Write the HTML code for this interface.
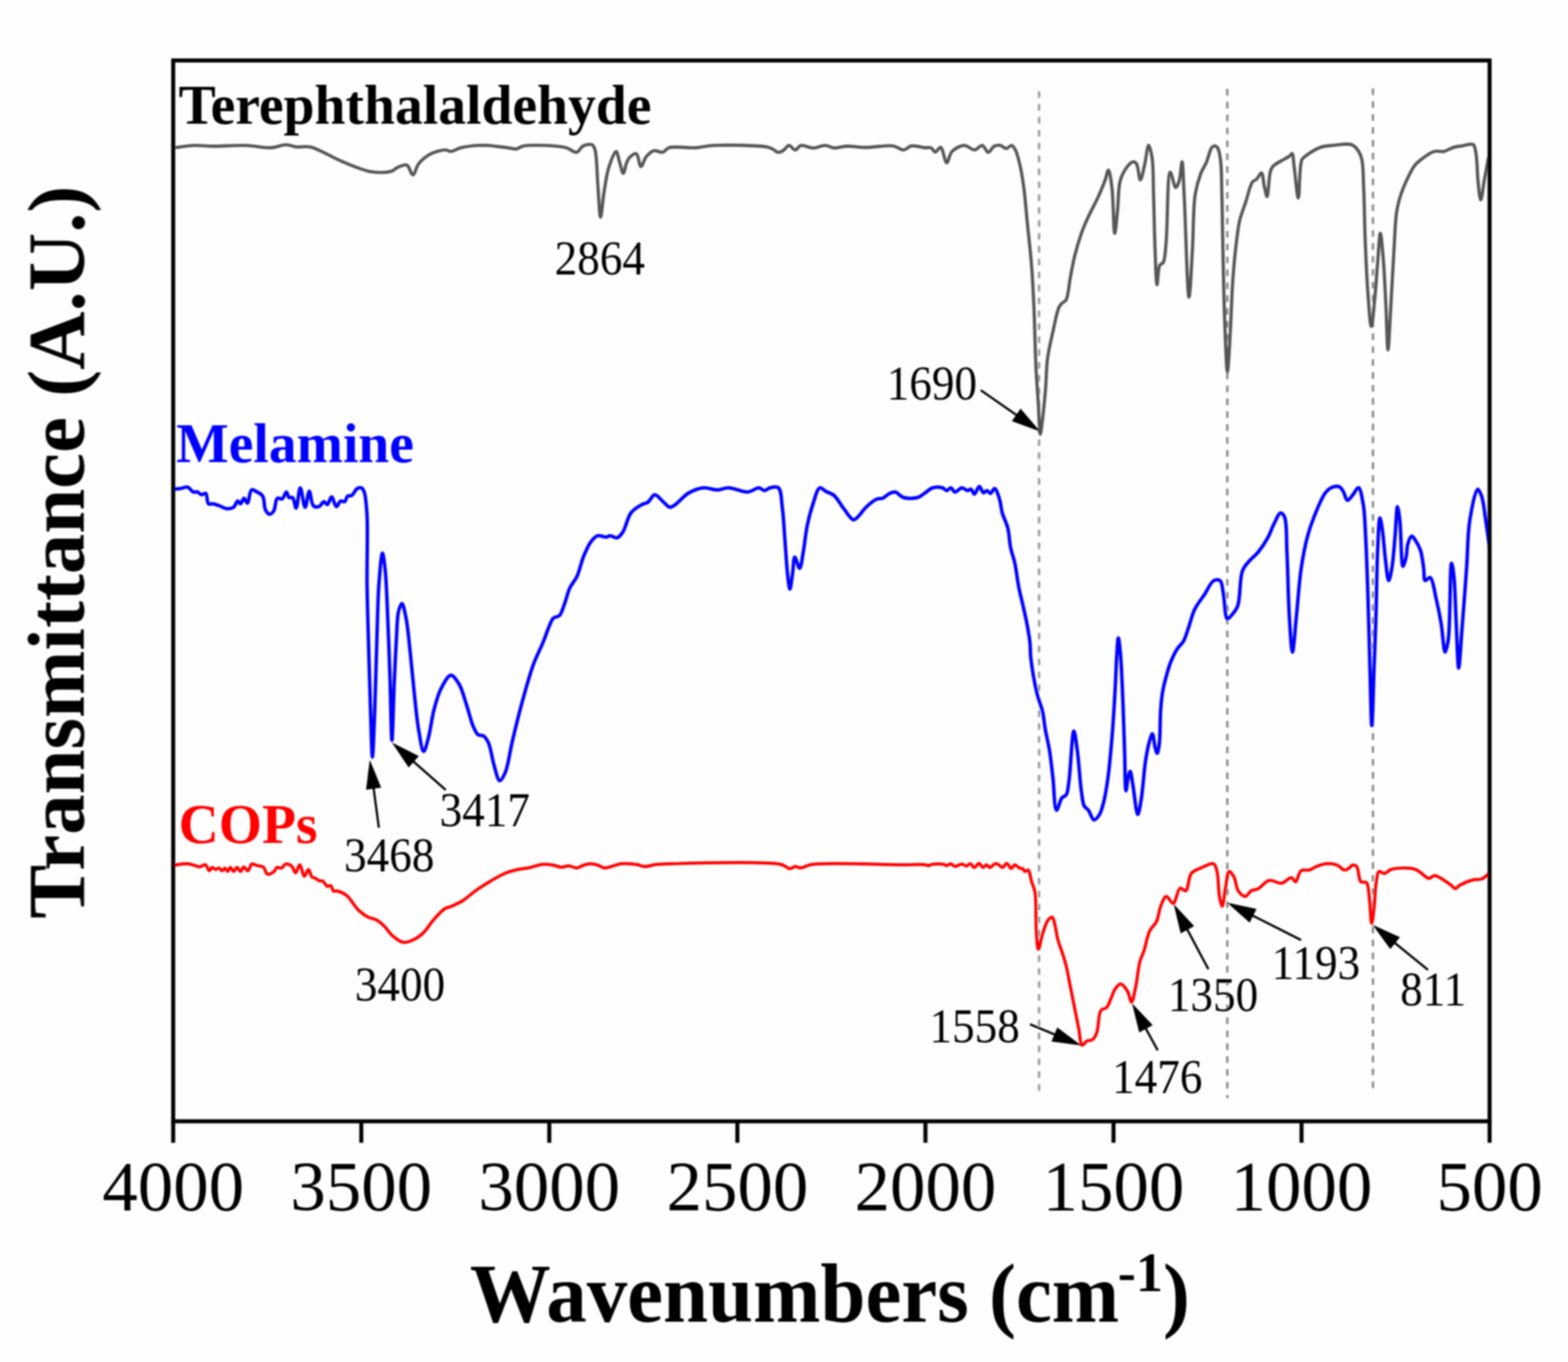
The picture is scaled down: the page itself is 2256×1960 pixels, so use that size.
<!DOCTYPE html>
<html><head><meta charset="utf-8"><title>FTIR</title>
<style>
html,body{margin:0;padding:0;background:#fefefe;}
svg{display:block;}
text{font-family:"Liberation Serif","Times New Roman",serif;}
.tk{font-size:102px;}
.pk{font-size:65px;}
.sr{font-size:80px;font-weight:bold;}
.ax{font-size:116.4px;font-weight:bold;}
.sup{font-size:78px;}
</style></head><body>
<svg width="2256" height="1960" viewBox="0 0 2256 1960"><rect width="2256" height="1960" fill="#fefefe"/><defs><filter id="bl" x="-2%" y="-2%" width="104%" height="104%"><feGaussianBlur stdDeviation="1.1"/></filter></defs><g filter="url(#bl)"><line x1="1495.0" y1="131.25" x2="1495.0" y2="1569.8" stroke="#9a9a9a" stroke-width="3.4" stroke-dasharray="9.5 9.06"/><line x1="1765.8" y1="128.0" x2="1765.8" y2="1580.5" stroke="#8a8a8a" stroke-width="3.4" stroke-dasharray="9.5 9.06"/><line x1="1975.4" y1="127.2" x2="1975.4" y2="1567.5" stroke="#8a8a8a" stroke-width="3.4" stroke-dasharray="9.5 9.06"/><path d="M250.9,212.6C255.6,212.1 269.8,209.6 279.0,209.3C287.8,209.0 295.0,210.3 305.0,210.4C318.6,210.5 338.1,208.8 353.0,209.3C366.1,209.7 379.4,213.2 390.0,212.6C398.2,212.1 405.0,208.2 411.5,208.2C417.0,208.2 421.3,210.9 426.7,211.5C432.8,212.2 438.6,209.8 446.3,211.5C459.0,214.2 478.5,227.1 494.0,233.2C508.1,238.8 522.7,245.5 535.3,247.3C545.5,248.8 557.1,248.2 563.6,246.2C567.5,245.0 568.9,242.2 572.2,240.8C576.0,239.2 581.8,236.1 585.3,237.5C589.2,239.1 591.2,251.8 594.0,251.7C597.0,251.6 598.6,240.3 602.6,235.4C607.0,230.0 613.5,224.6 620.0,221.3C626.5,218.0 636.6,215.6 641.7,215.8C644.6,215.9 645.7,218.0 648.3,218.0C652.3,218.0 657.7,214.0 663.5,212.6C670.6,210.9 681.0,209.8 688.0,209.3C693.2,209.0 696.3,209.0 701.7,209.3C709.5,209.8 722.4,211.7 730.0,212.6C735.2,213.2 739.2,214.9 743.0,214.3C746.3,213.8 747.8,211.3 751.7,210.4C759.0,208.7 773.6,208.9 784.2,209.3C794.5,209.7 806.3,210.4 814.6,212.6C820.7,214.2 825.6,219.9 829.8,219.1C833.4,218.4 835.0,212.2 838.5,210.4C842.2,208.5 848.5,206.9 851.5,208.2C853.8,209.2 854.7,211.3 855.9,214.7C859.0,223.6 858.8,250.1 860.2,266.9C861.5,282.6 862.5,312.5 864.1,312.5C865.5,312.5 867.0,289.3 868.9,277.7C870.8,266.1 872.2,253.5 875.4,243.0C878.2,233.8 883.4,217.9 886.3,218.0C888.6,218.1 889.9,229.0 891.7,234.3C893.4,239.5 895.1,249.5 896.7,249.5C898.3,249.5 899.7,238.4 901.5,234.3C902.8,231.2 903.7,228.8 905.8,226.7C908.2,224.3 913.0,220.3 915.6,221.3C919.0,222.6 919.6,239.5 922.1,239.7C924.4,239.9 926.5,229.5 929.7,225.6C932.7,222.0 936.5,217.9 940.6,216.9C944.5,215.9 949.9,220.0 953.6,219.1C957.0,218.3 958.0,214.0 962.3,212.6C970.4,209.9 989.7,213.3 1001.4,212.6C1011.0,212.0 1016.4,209.8 1027.4,209.3C1046.1,208.4 1090.8,209.0 1103.5,211.5C1107.9,212.4 1109.5,213.4 1112.1,214.7C1114.5,215.9 1116.3,218.7 1118.7,219.1C1121.1,219.5 1124.0,218.3 1126.5,216.9C1129.5,215.3 1132.3,209.4 1135.2,209.3C1138.1,209.2 1141.0,215.8 1143.9,215.8C1146.8,215.8 1149.0,210.1 1152.6,209.3C1157.2,208.3 1164.2,213.0 1170.0,213.0C1175.8,213.0 1182.0,209.1 1187.3,209.3C1192.0,209.5 1195.6,212.7 1200.3,213.0C1205.6,213.3 1211.2,210.7 1217.7,210.4C1226.0,210.0 1235.8,212.1 1246.0,212.1C1258.0,212.1 1275.1,208.5 1285.0,210.0C1291.4,211.0 1295.6,216.1 1300.2,215.8C1304.2,215.6 1306.8,210.8 1311.1,210.0C1316.5,209.0 1325.4,212.3 1330.6,212.6C1334.1,212.8 1336.8,211.6 1339.3,212.6C1341.9,213.6 1343.5,218.7 1345.8,218.7C1348.2,218.7 1351.1,211.5 1353.4,212.1C1356.9,213.0 1359.2,234.2 1362.1,234.3C1364.6,234.4 1365.7,222.1 1369.7,218.0C1373.9,213.7 1381.5,209.5 1387.1,209.3C1392.3,209.1 1397.7,216.1 1402.3,215.8C1406.3,215.5 1410.0,208.8 1413.2,209.3C1416.5,209.8 1418.9,219.0 1421.8,219.1C1424.6,219.2 1427.3,212.0 1430.5,210.4C1433.2,209.1 1436.4,208.8 1439.2,209.3C1442.2,209.8 1445.1,213.8 1447.9,213.7C1450.5,213.6 1453.3,208.9 1455.5,209.3C1457.7,209.7 1459.3,212.9 1461.0,216.0C1463.8,221.3 1466.1,231.4 1468.0,239.9C1470.1,249.3 1471.5,258.6 1473.0,269.9C1474.9,284.4 1476.3,302.4 1478.0,319.8C1479.9,338.9 1482.4,359.7 1484.0,379.7C1485.6,399.8 1486.5,417.8 1487.5,440.0C1488.8,467.2 1489.3,505.7 1490.6,530.7C1491.5,548.4 1492.6,560.7 1493.6,576.1C1494.7,592.1 1495.5,624.9 1496.8,625.0C1497.6,625.0 1498.6,614.0 1499.6,606.4C1501.1,594.6 1502.9,576.1 1504.2,561.0C1505.5,545.9 1505.3,530.0 1507.2,515.6C1509.0,502.4 1512.0,490.2 1514.8,477.8C1517.6,465.6 1520.4,448.4 1523.9,441.6C1525.5,438.5 1527.1,437.3 1528.9,435.6C1530.5,434.0 1532.5,434.0 1533.9,431.6C1537.1,426.3 1537.9,410.2 1539.9,399.7C1541.9,389.5 1543.4,379.9 1545.9,369.7C1548.6,358.7 1552.3,346.0 1555.9,335.8C1559.0,327.0 1562.1,320.0 1565.9,311.8C1570.0,302.8 1575.7,292.9 1579.8,283.9C1583.6,275.7 1587.1,267.0 1589.8,259.9C1591.9,254.4 1593.3,244.8 1594.8,244.9C1596.7,245.0 1598.5,259.5 1599.8,269.9C1602.0,286.6 1602.1,335.7 1603.8,335.8C1605.0,335.8 1606.6,315.3 1607.8,303.8C1609.3,290.3 1608.5,271.5 1611.8,259.9C1614.1,251.7 1618.2,244.6 1621.8,239.9C1624.3,236.6 1627.3,233.3 1629.8,232.9C1631.6,232.6 1633.4,233.3 1634.8,234.9C1637.9,238.4 1638.7,258.9 1640.7,258.9C1642.6,258.9 1644.8,245.5 1646.7,237.9C1648.9,229.1 1650.7,209.1 1652.7,209.0C1654.3,209.0 1656.5,220.0 1657.7,227.9C1659.6,240.9 1659.1,261.0 1659.7,279.9C1660.4,302.4 1660.8,330.9 1661.7,353.8C1662.5,373.7 1663.2,409.6 1664.7,409.7C1665.8,409.7 1665.9,386.6 1668.7,381.7C1670.0,379.4 1672.4,380.0 1673.7,377.7C1676.5,372.8 1676.5,362.0 1677.7,349.8C1680.1,326.5 1679.3,248.5 1683.7,247.9C1685.8,247.6 1689.2,269.8 1691.7,269.9C1693.4,270.0 1695.4,264.2 1696.7,259.9C1698.8,253.2 1699.6,232.9 1700.7,232.9C1702.1,233.0 1702.6,259.9 1703.7,279.9C1705.7,315.4 1708.3,427.7 1710.7,427.7C1712.3,427.7 1714.2,383.3 1715.6,359.7C1717.2,334.2 1716.5,300.0 1719.6,279.9C1721.6,267.4 1724.5,258.2 1727.6,249.9C1730.0,243.6 1733.1,239.7 1735.6,233.9C1738.5,227.2 1740.7,215.3 1743.6,212.0C1744.9,210.6 1746.3,209.9 1747.6,210.0C1749.1,210.1 1750.8,211.2 1752.0,213.0C1754.2,216.2 1755.0,222.7 1756.0,229.9C1757.7,242.1 1757.5,261.3 1758.0,279.9C1758.7,303.4 1758.9,331.6 1759.5,359.7C1760.2,391.1 1760.8,428.6 1762.0,459.6C1763.1,486.5 1764.5,535.0 1766.0,535.0C1767.2,535.0 1768.8,499.8 1770.0,479.6C1771.5,455.4 1772.1,424.4 1774.0,399.7C1775.6,378.3 1777.9,355.3 1780.0,339.8C1781.3,330.0 1782.0,323.7 1784.0,315.8C1786.0,307.7 1789.2,300.2 1792.0,291.8C1795.1,282.4 1798.1,267.0 1802.0,261.9C1803.9,259.5 1806.1,259.7 1808.0,257.9C1810.4,255.6 1813.2,248.5 1815.0,248.9C1817.3,249.4 1817.6,262.0 1819.0,267.9C1820.3,273.2 1821.8,283.0 1823.0,282.9C1824.9,282.8 1825.5,253.2 1828.0,245.9C1829.2,242.5 1829.8,241.2 1832.0,238.9C1835.3,235.4 1843.7,231.5 1848.0,228.9C1850.8,227.2 1853.1,226.4 1855.0,224.9C1856.6,223.7 1857.9,220.6 1859.0,220.9C1860.9,221.5 1860.9,232.2 1862.0,239.9C1863.7,251.7 1866.2,284.9 1868.0,284.9C1869.9,284.9 1869.1,238.2 1873.0,229.9C1874.4,226.9 1875.6,226.8 1878.0,224.9C1882.6,221.3 1892.6,214.6 1900.0,212.0C1906.6,209.7 1913.0,209.7 1920.0,209.0C1927.6,208.3 1938.4,206.2 1944.0,208.0C1947.6,209.1 1949.7,211.2 1952.0,214.0C1954.9,217.4 1957.3,221.8 1959.0,227.9C1961.8,237.9 1961.2,254.1 1962.0,269.9C1963.0,290.2 1963.1,315.7 1964.0,339.8C1965.0,365.5 1966.2,396.2 1968.0,419.7C1969.4,438.3 1971.2,469.6 1973.0,469.6C1974.6,469.6 1976.6,443.8 1978.0,429.7C1979.6,414.0 1980.6,395.8 1982.0,379.7C1983.3,364.6 1984.6,335.8 1986.0,335.8C1987.3,335.8 1988.8,356.4 1990.0,369.7C1991.7,388.8 1992.8,416.8 1994.0,439.6C1995.1,461.4 1995.8,503.5 1997.0,503.5C1998.1,503.5 1999.4,469.9 2000.6,449.6C2002.2,423.4 2003.9,386.1 2005.6,359.7C2006.9,338.9 2007.3,318.5 2009.6,303.8C2011.2,294.1 2013.2,287.4 2015.6,279.9C2017.9,272.9 2020.4,266.6 2023.6,259.9C2027.0,252.6 2031.3,243.4 2035.6,237.9C2038.8,233.9 2041.6,231.9 2045.6,228.9C2050.6,225.2 2057.7,219.5 2063.5,217.9C2068.3,216.6 2072.9,218.8 2077.5,217.9C2082.3,216.9 2086.9,213.3 2091.5,212.0C2095.6,210.8 2099.2,210.6 2103.5,210.0C2108.4,209.3 2116.2,205.9 2119.5,208.0C2122.4,209.8 2122.4,214.7 2123.5,219.9C2125.4,229.2 2125.2,247.8 2126.5,259.9C2127.6,270.1 2129.0,287.8 2130.5,287.8C2132.0,287.8 2133.8,269.5 2135.5,259.9C2137.4,249.6 2140.4,233.2 2141.4,227.9" fill="none" stroke="#555555" stroke-width="4.6" stroke-linejoin="round" stroke-linecap="round"/><path d="M250.0,704.0C251.7,703.8 256.7,703.5 260.0,703.0C263.3,702.5 267.0,700.2 270.0,701.0C273.0,701.8 275.3,707.0 278.0,708.0C280.0,708.8 282.1,707.4 284.0,708.0C286.1,708.6 287.9,711.7 290.0,712.0C291.9,712.3 294.4,709.2 296.0,710.0C298.4,711.3 297.5,723.1 300.0,725.0C301.6,726.2 303.8,724.7 306.0,725.0C308.9,725.4 312.7,726.8 316.0,728.0C319.4,729.2 322.6,731.7 326.0,732.0C329.3,732.3 333.4,731.8 336.0,730.0C338.7,728.2 340.1,721.2 342.0,721.0C343.4,720.9 344.7,725.1 346.0,725.0C347.7,724.8 349.3,717.1 351.0,717.0C352.6,716.9 354.5,724.2 356.0,724.0C358.3,723.6 358.7,706.6 362.0,705.0C364.1,704.0 367.4,706.6 370.0,708.0C372.8,709.5 376.0,710.9 378.0,714.0C380.8,718.4 379.6,729.5 382.0,734.0C383.6,736.9 386.0,739.9 388.0,740.0C390.0,740.1 392.4,737.5 394.0,735.0C396.5,731.1 396.0,718.9 399.0,717.0C400.8,715.8 404.0,718.9 406.0,718.0C408.6,716.8 410.3,707.9 412.0,708.0C413.5,708.1 414.2,714.9 416.0,716.0C417.4,716.9 419.6,715.0 421.0,716.0C423.5,717.8 424.4,731.1 426.0,731.0C428.2,730.9 429.8,702.0 432.0,702.0C434.2,702.0 436.7,730.0 439.0,730.0C441.1,730.0 443.0,707.0 445.0,707.0C447.0,707.0 447.5,725.0 451.0,728.0C453.1,729.8 456.6,729.8 459.0,729.0C461.7,728.1 463.8,722.1 466.0,722.0C467.8,721.9 469.4,726.3 471.0,726.0C473.2,725.6 475.0,715.0 477.0,715.0C479.3,715.0 481.6,728.8 484.0,729.0C485.9,729.2 487.7,721.9 490.0,721.0C491.8,720.3 494.4,722.8 496.0,722.0C497.9,721.0 498.1,715.4 500.0,714.0C501.6,712.8 504.1,714.1 506.0,713.0C508.8,711.4 511.2,704.6 514.0,703.0C515.9,701.9 518.4,701.3 520.0,702.0C521.8,702.8 522.9,705.0 524.0,708.0C526.3,714.3 527.1,726.3 528.0,740.0C529.5,764.1 527.7,808.7 528.1,840.3C528.5,868.6 529.3,892.3 530.1,920.6C531.0,952.2 532.1,990.7 533.1,1021.0C534.0,1046.0 534.8,1089.4 535.8,1089.4C536.8,1089.4 538.2,1046.0 539.2,1021.0C540.4,990.7 541.1,952.2 542.2,920.6C543.2,892.3 543.5,863.1 545.2,840.3C546.5,823.4 548.5,796.1 550.2,796.1C551.5,796.1 553.1,809.8 554.2,820.2C556.2,839.1 557.1,873.7 558.3,900.5C559.5,927.3 560.4,953.8 561.3,980.9C562.2,1008.7 562.9,1065.3 563.9,1065.3C564.9,1065.3 566.1,1006.7 567.3,980.9C568.3,959.1 569.2,938.7 570.3,920.6C571.2,905.8 571.1,889.7 573.3,880.4C574.6,875.1 576.7,868.3 578.3,868.4C580.4,868.5 582.6,881.6 584.4,890.5C587.0,903.8 588.5,923.2 590.4,940.7C592.5,959.9 594.3,981.8 596.4,1001.0C598.3,1018.5 599.9,1036.7 602.5,1051.2C604.5,1062.6 606.9,1081.2 609.5,1081.3C611.7,1081.4 614.3,1069.1 616.5,1061.2C619.5,1050.2 621.2,1033.3 624.5,1021.0C627.4,1010.1 630.1,999.5 634.6,990.9C638.5,983.5 644.0,972.0 648.7,971.8C652.7,971.6 657.3,979.3 660.7,984.9C665.1,992.2 667.5,1003.3 670.8,1013.0C674.3,1023.3 677.3,1037.2 680.8,1045.2C683.1,1050.3 684.8,1055.0 687.8,1057.2C690.1,1058.9 693.6,1057.6 695.9,1059.2C698.8,1061.2 700.8,1064.7 702.9,1069.3C706.3,1076.8 707.9,1091.8 710.9,1101.4C713.4,1109.5 715.9,1123.1 719.0,1123.5C721.4,1123.8 724.6,1117.1 727.0,1111.5C731.2,1101.7 733.3,1082.9 737.0,1067.3C741.2,1049.6 746.0,1029.5 751.1,1011.0C756.1,992.7 761.5,972.4 767.2,956.8C771.7,944.5 777.0,934.8 781.2,924.6C784.9,915.5 788.4,904.8 791.3,898.5C793.0,894.7 793.7,891.8 796.0,889.7C798.3,887.6 802.5,888.2 805.0,885.7C808.3,882.4 809.7,875.6 812.0,869.7C814.7,862.6 816.7,852.8 820.0,845.8C822.9,839.7 827.0,836.2 830.0,829.8C833.9,821.5 836.3,808.7 840.0,799.8C843.1,792.4 846.1,785.0 850.0,779.9C853.0,776.0 856.2,772.0 860.0,770.9C863.6,769.9 868.7,773.2 872.0,772.9C874.4,772.7 875.7,770.9 878.0,770.9C880.9,770.9 885.0,774.6 888.0,773.9C891.1,773.1 893.4,769.7 896.0,765.9C900.2,759.6 902.6,744.8 908.0,737.9C912.4,732.3 919.4,728.4 924.0,725.9C927.0,724.3 929.4,724.7 932.0,722.9C935.4,720.6 938.4,712.3 942.0,712.0C945.7,711.7 950.2,718.8 954.0,721.9C957.5,724.7 960.7,729.6 964.0,729.9C966.7,730.2 969.0,728.0 972.0,725.9C977.0,722.5 983.3,714.0 990.0,710.0C996.6,706.1 1004.8,702.7 1012.0,702.0C1018.7,701.3 1025.7,705.1 1032.0,705.0C1037.6,704.9 1041.9,701.9 1048.0,702.0C1056.0,702.1 1068.0,708.6 1076.0,708.0C1082.2,707.5 1087.6,701.8 1092.0,702.0C1095.2,702.2 1097.3,706.0 1100.0,706.0C1102.7,706.0 1105.0,702.7 1108.0,702.0C1111.5,701.2 1117.1,699.6 1120.0,702.0C1124.5,705.7 1124.0,719.2 1125.5,729.9C1127.5,744.1 1128.2,763.2 1129.5,779.9C1130.8,796.5 1132.0,817.3 1133.5,829.8C1134.4,837.3 1135.4,847.8 1136.5,847.8C1137.7,847.8 1139.3,831.6 1140.5,823.8C1141.6,816.3 1141.6,802.1 1143.5,801.8C1145.2,801.6 1148.6,818.0 1150.5,817.8C1152.7,817.6 1153.9,804.3 1155.5,795.8C1157.6,784.5 1158.9,768.2 1161.5,755.9C1163.7,745.1 1166.3,735.2 1169.5,725.9C1172.4,717.4 1175.4,703.4 1179.5,702.0C1182.0,701.2 1184.9,705.3 1188.0,707.0C1191.6,709.0 1196.2,709.8 1200.0,713.0C1205.0,717.2 1209.2,726.0 1214.0,732.0C1218.6,737.7 1223.8,747.6 1228.0,748.0C1230.9,748.3 1233.3,744.5 1236.0,742.0C1239.3,738.8 1242.0,733.8 1246.0,730.0C1250.5,725.7 1257.4,719.9 1262.0,718.0C1264.9,716.8 1267.3,718.0 1270.0,717.0C1273.3,715.7 1276.7,711.5 1280.0,710.0C1282.7,708.8 1285.2,707.5 1288.0,708.0C1291.7,708.6 1295.2,714.6 1300.0,716.0C1305.6,717.7 1314.6,717.5 1320.0,716.0C1324.1,714.9 1326.5,712.2 1330.0,710.0C1333.8,707.6 1337.6,703.3 1342.0,702.0C1346.3,700.7 1352.4,700.9 1356.0,702.0C1358.6,702.8 1360.0,706.0 1362.0,706.0C1364.0,706.0 1366.1,701.8 1368.0,702.0C1370.1,702.2 1371.6,707.7 1374.0,708.0C1376.8,708.3 1380.8,702.1 1384.0,702.0C1386.8,701.9 1389.6,705.9 1392.0,706.0C1393.8,706.1 1395.5,703.6 1397.0,704.0C1398.9,704.6 1400.2,711.0 1402.0,711.0C1404.2,710.9 1406.7,700.0 1409.0,700.0C1411.1,700.0 1412.8,708.5 1415.0,709.0C1416.6,709.4 1418.4,705.9 1420.0,706.0C1421.7,706.1 1423.3,710.2 1425.0,710.0C1427.0,709.8 1429.1,702.7 1431.0,703.0C1433.5,703.3 1436.2,712.5 1438.0,718.0C1440.0,724.1 1440.1,731.2 1442.0,738.0C1444.0,745.2 1448.0,752.1 1450.0,760.0C1452.2,768.7 1452.2,779.3 1454.0,788.0C1455.6,795.8 1458.2,801.7 1460.0,810.0C1462.3,820.5 1463.8,835.0 1466.0,846.0C1467.9,855.4 1470.0,863.2 1472.0,872.0C1474.0,881.2 1476.3,890.8 1478.0,900.0C1479.6,908.8 1481.2,917.9 1482.0,926.0C1482.7,933.1 1482.1,937.8 1483.0,946.0C1484.5,959.3 1488.6,983.7 1492.0,998.0C1494.5,1008.2 1498.0,1015.3 1500.0,1024.0C1502.0,1032.6 1502.4,1041.0 1504.0,1050.0C1505.7,1059.7 1508.3,1069.2 1510.0,1080.0C1512.0,1092.3 1513.4,1106.2 1515.0,1120.0C1516.7,1134.8 1516.9,1165.5 1520.0,1166.0C1522.0,1166.3 1524.9,1151.6 1528.0,1148.0C1529.9,1145.8 1532.5,1146.3 1534.0,1144.0C1536.6,1140.1 1536.7,1132.8 1538.0,1124.0C1540.4,1107.5 1542.5,1052.1 1545.0,1052.0C1546.6,1051.9 1548.5,1068.9 1550.0,1080.0C1552.3,1096.2 1553.8,1125.4 1556.0,1140.0C1557.3,1148.5 1557.6,1155.5 1560.0,1160.0C1561.6,1162.9 1564.0,1163.4 1566.0,1166.0C1568.7,1169.6 1571.1,1179.6 1574.0,1180.0C1576.5,1180.3 1579.8,1175.5 1582.0,1172.0C1584.8,1167.4 1586.2,1161.0 1588.0,1154.0C1590.4,1144.5 1592.2,1133.0 1594.0,1120.0C1596.4,1102.9 1598.3,1080.0 1600.0,1060.0C1601.7,1040.0 1602.8,1020.0 1604.0,1000.0C1605.2,980.0 1605.9,955.1 1607.0,940.0C1607.6,930.9 1608.2,918.0 1609.0,918.0C1609.8,918.0 1611.1,930.4 1612.0,940.0C1613.7,958.3 1615.0,995.2 1616.0,1020.0C1616.9,1041.4 1617.3,1060.2 1618.0,1080.0C1618.7,1099.5 1618.6,1137.9 1620.0,1138.0C1620.8,1138.1 1621.8,1125.1 1623.0,1120.0C1623.9,1116.1 1625.0,1110.0 1626.0,1110.0C1627.4,1110.1 1628.6,1122.1 1630.0,1130.0C1632.1,1141.4 1634.7,1171.9 1637.0,1172.0C1638.7,1172.0 1640.5,1159.0 1642.0,1150.0C1644.4,1136.0 1645.8,1110.7 1648.0,1096.0C1649.6,1085.7 1651.0,1077.3 1653.0,1070.0C1654.5,1064.6 1656.6,1055.9 1658.0,1056.0C1659.7,1056.1 1660.5,1070.9 1662.0,1076.0C1662.9,1079.3 1664.1,1084.1 1665.0,1084.0C1666.2,1083.9 1667.2,1076.1 1668.0,1070.0C1669.5,1058.5 1668.9,1033.9 1670.0,1020.0C1670.8,1009.9 1671.4,1002.8 1673.0,994.0C1674.7,984.8 1677.8,973.7 1680.0,966.0C1681.6,960.6 1682.6,957.0 1684.6,952.2C1687.0,946.5 1690.3,939.1 1693.7,933.9C1696.5,929.5 1700.3,927.0 1702.9,922.5C1705.8,917.3 1707.3,910.9 1709.7,904.2C1712.6,896.0 1714.9,885.0 1718.9,876.8C1722.6,869.2 1728.0,863.1 1732.6,856.2C1737.2,849.3 1741.4,838.2 1746.3,835.6C1749.3,834.0 1753.3,833.8 1755.5,835.6C1758.7,838.1 1758.6,846.7 1760.1,853.9C1762.1,864.0 1762.3,889.1 1765.8,890.5C1767.4,891.1 1769.5,888.0 1771.5,885.9C1774.4,882.7 1778.3,878.6 1780.7,872.2C1785.0,861.0 1783.2,833.0 1787.5,821.8C1789.9,815.4 1793.1,812.5 1796.7,808.1C1800.6,803.3 1806.1,799.7 1810.4,794.4C1815.3,788.4 1820.2,780.8 1824.1,773.8C1827.8,767.1 1830.0,759.4 1833.3,753.2C1836.2,747.7 1839.5,738.6 1842.4,738.3C1844.4,738.1 1846.7,740.8 1848.2,744.1C1851.9,752.3 1850.6,775.1 1851.6,794.4C1853.0,820.4 1853.4,859.6 1855.0,885.9C1856.2,905.9 1857.9,938.5 1859.6,938.5C1861.3,938.5 1863.3,904.6 1865.3,885.9C1867.5,864.6 1869.1,837.8 1872.2,817.3C1874.7,800.4 1877.8,784.7 1881.3,771.5C1884.1,761.1 1886.7,753.6 1890.5,744.1C1894.9,733.2 1901.1,716.9 1906.5,709.7C1909.5,705.7 1912.1,703.2 1915.6,701.7C1919.0,700.2 1924.2,699.4 1927.1,700.6C1929.7,701.7 1931.1,704.7 1932.8,707.5C1935.0,710.9 1936.1,719.6 1938.5,720.0C1940.7,720.4 1943.9,714.9 1946.5,712.0C1949.3,708.9 1952.3,701.3 1954.5,701.7C1957.6,702.3 1959.7,716.4 1961.4,725.8C1963.7,738.5 1963.8,753.6 1964.8,771.5C1966.2,796.7 1967.3,832.1 1968.3,863.0C1969.4,894.9 1970.1,928.8 1971.0,960.0C1971.9,989.0 1972.7,1044.0 1973.7,1044.0C1974.7,1044.0 1976.0,987.1 1977.0,960.0C1978.0,934.5 1978.9,911.9 1979.7,885.9C1980.6,857.0 1980.8,820.2 1982.0,794.4C1982.9,775.5 1983.8,745.3 1985.4,745.2C1986.4,745.1 1987.8,755.3 1988.9,762.4C1990.6,773.5 1991.7,792.7 1993.4,805.8C1994.8,816.7 1996.2,835.5 1998.0,835.6C1999.4,835.7 2001.3,824.8 2002.6,817.3C2004.7,805.5 2005.8,786.5 2007.2,771.5C2008.5,757.1 2009.2,729.3 2010.6,729.2C2011.6,729.2 2013.0,740.2 2014.0,748.6C2015.9,764.1 2015.9,814.7 2018.6,815.0C2019.9,815.2 2022.1,806.3 2023.2,801.3C2024.5,795.7 2023.9,788.3 2025.5,783.0C2026.8,778.6 2029.1,771.7 2031.2,771.5C2033.0,771.3 2035.1,775.6 2036.9,778.4C2039.3,782.1 2042.0,786.7 2043.8,792.1C2046.1,799.1 2047.1,809.6 2048.3,817.3C2049.3,823.9 2048.2,834.5 2050.6,835.6C2052.2,836.3 2055.5,830.2 2057.5,831.0C2061.6,832.5 2064.0,852.1 2066.6,863.0C2069.3,874.2 2071.5,885.3 2073.5,897.3C2075.7,910.4 2077.1,938.4 2079.2,938.5C2080.6,938.6 2082.5,929.0 2083.8,920.2C2086.9,899.1 2086.0,810.6 2088.4,810.4C2089.4,810.3 2090.9,820.6 2091.8,828.7C2093.6,844.2 2094.0,874.8 2095.2,897.3C2096.3,919.0 2097.3,961.4 2098.7,961.4C2100.0,961.4 2101.6,928.7 2103.2,908.8C2105.3,882.5 2108.1,845.6 2110.1,817.3C2111.8,792.8 2111.5,768.9 2114.7,748.6C2117.4,732.0 2122.3,704.5 2126.1,704.0C2128.0,703.8 2130.2,709.7 2131.8,714.3C2134.6,722.2 2135.8,736.6 2137.6,748.6C2139.6,761.7 2142.4,782.9 2143.3,789.8" fill="none" stroke="#0000ff" stroke-width="5.0" stroke-linejoin="round" stroke-linecap="round"/><path d="M250.0,1245.0C253.3,1244.7 264.5,1242.6 270.0,1243.0C273.9,1243.3 276.9,1244.6 280.0,1245.4C282.8,1246.1 285.2,1247.5 287.8,1247.3C290.4,1247.1 293.3,1243.7 295.5,1244.4C297.9,1245.2 299.5,1253.0 301.3,1253.1C302.7,1253.2 303.7,1248.6 305.2,1248.3C306.6,1248.0 308.4,1251.1 310.1,1251.2C311.7,1251.3 313.4,1249.0 314.9,1249.2C316.6,1249.4 318.2,1253.2 319.7,1253.1C321.1,1253.0 322.3,1249.1 323.6,1249.2C324.9,1249.3 326.2,1254.2 327.5,1254.1C328.8,1254.0 330.0,1248.4 331.4,1248.3C332.9,1248.2 334.6,1254.1 336.2,1254.1C337.8,1254.1 339.5,1248.3 341.1,1248.3C342.7,1248.3 344.3,1254.1 345.9,1254.1C347.5,1254.1 349.0,1248.0 350.8,1247.8C352.6,1247.6 354.8,1253.4 356.6,1253.1C358.7,1252.8 359.9,1244.4 362.4,1243.4C364.3,1242.6 366.7,1244.7 369.2,1245.4C372.1,1246.2 376.4,1245.9 378.9,1247.8C381.7,1249.9 382.0,1257.1 384.7,1258.0C387.2,1258.9 392.1,1256.0 394.4,1254.1C396.3,1252.6 396.5,1249.1 398.3,1248.3C400.1,1247.5 403.1,1249.9 405.1,1249.2C407.3,1248.4 408.6,1243.9 410.9,1243.4C413.4,1242.8 417.2,1244.4 419.6,1246.3C422.2,1248.4 423.5,1256.1 425.4,1256.0C427.4,1255.9 429.3,1244.3 431.2,1244.4C433.5,1244.5 435.6,1260.7 438.0,1260.9C439.9,1261.0 442.0,1251.1 443.8,1251.2C445.6,1251.3 446.6,1259.8 448.7,1261.8C450.1,1263.1 451.8,1263.0 453.5,1263.8C455.6,1264.8 458.3,1267.2 460.3,1267.7C461.7,1268.1 462.9,1267.1 464.2,1267.7C466.4,1268.7 468.7,1274.6 471.0,1275.4C472.6,1275.9 474.4,1273.8 475.8,1274.4C477.6,1275.3 478.3,1281.2 480.0,1282.2C481.2,1282.9 482.3,1281.7 484.0,1282.0C487.3,1282.6 493.4,1284.6 498.0,1288.0C504.2,1292.7 510.0,1304.4 516.0,1310.0C520.7,1314.4 525.3,1317.6 530.0,1320.0C534.0,1322.0 538.2,1321.9 542.0,1324.0C546.2,1326.4 550.3,1330.3 554.0,1334.0C557.7,1337.7 559.9,1342.5 564.0,1346.0C568.5,1349.9 574.5,1355.2 580.0,1356.0C585.0,1356.8 590.7,1354.3 595.5,1352.0C600.5,1349.7 605.1,1346.2 609.5,1342.0C614.5,1337.2 618.5,1329.7 623.5,1324.0C628.5,1318.3 634.4,1311.3 639.5,1308.0C643.1,1305.7 646.2,1305.7 650.0,1304.0C654.8,1301.9 660.7,1299.4 666.0,1296.0C672.0,1292.2 677.7,1286.5 684.0,1282.0C690.4,1277.4 697.1,1273.1 704.0,1269.0C711.1,1264.8 718.7,1260.1 726.0,1257.0C732.7,1254.2 739.9,1252.3 746.0,1251.0C751.0,1249.9 754.9,1250.0 760.0,1249.0C766.1,1247.8 773.7,1244.6 780.0,1244.0C785.6,1243.5 791.1,1244.2 796.0,1245.0C800.3,1245.7 804.2,1247.9 808.0,1248.0C811.5,1248.1 814.5,1245.9 818.0,1246.0C821.8,1246.1 826.2,1249.3 830.0,1249.0C833.5,1248.8 836.6,1246.0 840.0,1245.0C843.3,1244.0 846.7,1243.0 850.0,1243.0C853.3,1243.0 856.7,1244.0 860.0,1245.0C863.4,1246.0 865.9,1248.7 870.0,1249.0C876.2,1249.4 886.1,1243.8 894.0,1243.0C901.4,1242.3 909.8,1243.1 916.0,1244.0C920.6,1244.7 923.7,1246.9 928.0,1247.0C932.9,1247.1 938.3,1244.7 944.0,1244.0C950.3,1243.3 954.1,1243.2 964.0,1243.0C991.9,1242.4 1101.3,1238.6 1124.0,1244.0C1130.6,1245.6 1132.4,1249.8 1136.0,1250.0C1138.9,1250.2 1141.3,1247.2 1144.0,1247.0C1146.6,1246.8 1148.9,1249.1 1152.0,1249.0C1156.4,1248.9 1159.9,1245.2 1168.0,1244.0C1190.6,1240.6 1271.3,1244.4 1300.0,1244.4C1313.9,1244.4 1325.2,1243.6 1331.0,1244.4C1333.4,1244.7 1334.3,1245.9 1335.9,1245.8C1337.5,1245.7 1338.5,1244.3 1340.7,1243.9C1344.7,1243.1 1354.6,1243.0 1358.2,1243.9C1360.0,1244.3 1360.6,1245.8 1362.0,1245.8C1363.7,1245.8 1366.0,1242.8 1367.9,1242.9C1369.9,1243.0 1371.4,1246.5 1373.7,1246.8C1376.6,1247.2 1381.3,1243.2 1384.3,1243.4C1386.6,1243.6 1388.3,1246.4 1390.2,1246.3C1392.2,1246.2 1394.1,1242.7 1396.0,1242.9C1398.0,1243.1 1399.8,1248.3 1401.8,1248.3C1404.0,1248.3 1406.5,1242.4 1408.6,1242.5C1410.6,1242.6 1412.5,1248.2 1414.4,1248.3C1416.0,1248.4 1417.6,1244.4 1419.2,1244.4C1420.8,1244.4 1422.3,1248.2 1424.1,1248.3C1426.4,1248.4 1429.4,1243.3 1431.8,1242.9C1433.5,1242.6 1435.1,1243.6 1436.7,1244.4C1438.6,1245.3 1440.6,1248.5 1442.5,1248.3C1444.5,1248.1 1446.3,1242.5 1448.3,1242.5C1450.5,1242.5 1453.0,1249.7 1455.1,1249.7C1456.9,1249.7 1458.1,1244.6 1460.0,1244.4C1462.0,1244.2 1464.5,1248.3 1466.7,1249.2C1468.4,1249.9 1470.3,1249.4 1471.6,1250.2C1472.9,1251.0 1473.2,1253.7 1474.5,1254.1C1475.8,1254.5 1478.3,1251.7 1479.4,1252.1C1480.4,1252.5 1480.7,1254.3 1481.3,1256.0C1482.3,1259.0 1483.0,1264.3 1484.2,1268.6C1485.5,1273.3 1487.8,1276.6 1489.0,1283.2C1491.3,1295.8 1489.9,1324.7 1491.0,1340.0C1491.8,1350.4 1492.4,1365.9 1494.0,1366.0C1495.5,1366.1 1497.6,1351.1 1500.0,1344.0C1502.3,1337.1 1504.8,1327.9 1508.0,1324.0C1509.8,1321.7 1512.4,1319.5 1514.0,1320.0C1516.1,1320.7 1516.8,1327.4 1518.0,1332.0C1519.5,1337.8 1520.3,1345.6 1522.0,1352.0C1523.6,1358.2 1526.0,1363.8 1528.0,1370.0C1530.1,1376.5 1532.2,1382.6 1534.0,1390.0C1536.2,1398.9 1538.0,1410.0 1540.0,1420.0C1542.0,1430.0 1544.0,1440.0 1546.0,1450.0C1548.0,1460.0 1550.1,1470.6 1552.0,1480.0C1553.7,1488.4 1554.0,1503.0 1557.0,1504.0C1558.8,1504.6 1561.4,1499.3 1564.0,1498.0C1566.4,1496.7 1569.8,1497.6 1572.0,1496.0C1574.6,1494.0 1576.3,1490.5 1578.0,1486.0C1580.8,1478.5 1580.0,1459.3 1584.0,1454.0C1586.1,1451.2 1589.8,1452.2 1592.0,1450.0C1594.7,1447.3 1596.1,1442.2 1598.0,1438.0C1600.1,1433.5 1601.4,1427.8 1604.0,1424.0C1606.2,1420.7 1609.2,1416.0 1612.0,1416.0C1615.1,1416.0 1619.4,1421.9 1622.0,1426.0C1624.9,1430.5 1626.1,1442.1 1628.0,1442.0C1630.2,1441.9 1632.2,1428.3 1634.0,1420.0C1636.3,1409.5 1637.5,1393.5 1640.0,1384.0C1641.7,1377.5 1644.0,1374.1 1646.0,1368.0C1648.6,1360.0 1650.4,1347.5 1654.0,1340.0C1656.8,1334.2 1661.4,1331.5 1664.0,1326.0C1667.0,1319.7 1667.4,1310.4 1670.0,1304.0C1672.2,1298.6 1674.9,1290.4 1678.0,1290.0C1680.9,1289.6 1685.0,1300.5 1688.0,1300.0C1691.9,1299.3 1694.0,1279.4 1698.0,1278.0C1700.4,1277.1 1703.7,1283.0 1706.0,1282.0C1709.9,1280.4 1709.5,1262.6 1714.0,1257.0C1717.5,1252.6 1722.9,1251.3 1728.0,1249.0C1733.5,1246.5 1742.2,1241.3 1746.0,1243.0C1749.1,1244.3 1749.7,1249.1 1751.0,1254.0C1753.3,1262.4 1752.8,1280.8 1754.5,1290.0C1755.6,1295.8 1757.2,1304.1 1758.5,1304.0C1760.3,1303.9 1761.7,1284.8 1763.5,1276.0C1765.1,1268.2 1765.8,1254.7 1768.5,1254.0C1770.3,1253.5 1773.5,1258.5 1775.5,1262.0C1778.2,1267.0 1778.2,1277.2 1781.5,1282.0C1784.2,1285.8 1788.8,1290.2 1792.0,1290.0C1794.9,1289.8 1796.9,1283.8 1800.0,1282.0C1803.0,1280.2 1806.4,1280.8 1810.0,1279.0C1814.9,1276.5 1820.2,1268.3 1826.0,1267.0C1831.6,1265.8 1838.5,1271.8 1844.0,1271.0C1849.1,1270.2 1854.4,1262.5 1858.0,1263.0C1860.6,1263.3 1862.1,1269.3 1864.0,1269.0C1866.8,1268.5 1868.1,1255.6 1872.0,1253.0C1875.2,1250.8 1880.3,1253.0 1884.0,1252.0C1887.6,1251.0 1890.3,1248.4 1894.0,1247.0C1898.2,1245.4 1903.1,1243.4 1908.0,1243.0C1913.1,1242.6 1919.5,1243.3 1924.0,1245.0C1927.9,1246.5 1931.0,1251.6 1934.0,1252.0C1936.2,1252.3 1938.1,1251.1 1940.0,1250.0C1942.1,1248.8 1943.9,1245.4 1946.0,1245.0C1947.9,1244.6 1950.3,1245.2 1952.0,1247.0C1955.2,1250.4 1954.4,1265.9 1958.0,1269.0C1960.1,1270.8 1964.0,1268.2 1966.0,1270.0C1969.1,1272.9 1968.9,1282.2 1970.0,1290.0C1971.6,1300.8 1972.1,1329.0 1973.5,1329.0C1974.6,1329.0 1976.0,1314.5 1977.0,1306.0C1978.3,1295.4 1978.4,1279.5 1980.0,1270.0C1981.1,1263.5 1981.3,1255.4 1984.0,1254.0C1986.0,1253.0 1989.2,1257.3 1992.0,1257.0C1995.2,1256.7 1997.4,1252.3 2002.0,1251.0C2009.8,1248.8 2026.5,1248.2 2036.0,1251.0C2044.0,1253.4 2050.8,1263.7 2056.0,1264.0C2059.2,1264.2 2060.7,1259.9 2064.0,1260.0C2069.9,1260.2 2082.8,1270.3 2088.0,1274.0C2090.8,1275.9 2092.0,1279.0 2094.0,1279.0C2096.0,1279.0 2097.2,1275.6 2100.0,1274.0C2104.6,1271.3 2114.2,1267.4 2120.0,1266.0C2124.3,1265.0 2127.8,1266.4 2131.5,1265.0C2135.7,1263.4 2141.5,1257.5 2143.5,1256.0" fill="none" stroke="#ff0000" stroke-width="4.5" stroke-linejoin="round" stroke-linecap="round"/><rect x="249.2" y="87" width="1894.0" height="1526.6" fill="none" stroke="#000" stroke-width="5.8"/><line x1="249.2" y1="1613" x2="249.2" y2="1644.5" stroke="#000" stroke-width="5.8"/><line x1="519.8" y1="1613" x2="519.8" y2="1644.5" stroke="#000" stroke-width="5.8"/><line x1="790.3" y1="1613" x2="790.3" y2="1644.5" stroke="#000" stroke-width="5.8"/><line x1="1060.9" y1="1613" x2="1060.9" y2="1644.5" stroke="#000" stroke-width="5.8"/><line x1="1331.5" y1="1613" x2="1331.5" y2="1644.5" stroke="#000" stroke-width="5.8"/><line x1="1602.1" y1="1613" x2="1602.1" y2="1644.5" stroke="#000" stroke-width="5.8"/><line x1="1872.6" y1="1613" x2="1872.6" y2="1644.5" stroke="#000" stroke-width="5.8"/><line x1="2143.2" y1="1613" x2="2143.2" y2="1644.5" stroke="#000" stroke-width="5.8"/><text x="249.2" y="1741.5" text-anchor="middle" class="tk">4000</text><text x="519.8" y="1741.5" text-anchor="middle" class="tk">3500</text><text x="790.3" y="1741.5" text-anchor="middle" class="tk">3000</text><text x="1060.9" y="1741.5" text-anchor="middle" class="tk">2500</text><text x="1331.5" y="1741.5" text-anchor="middle" class="tk">2000</text><text x="1602.1" y="1741.5" text-anchor="middle" class="tk">1500</text><text x="1872.6" y="1741.5" text-anchor="middle" class="tk">1000</text><text x="2143.2" y="1741.5" text-anchor="middle" class="tk">500</text><line x1="1411.0" y1="561.5" x2="1469.0" y2="601.8" stroke="#000" stroke-width="3.2"/><polygon points="1496.6,621.0 1455.8,606.1 1468.4,588.0" fill="#000"/><line x1="545.1" y1="1191.1" x2="536.5" y2="1126.6" stroke="#000" stroke-width="3.2"/><polygon points="532.0,1093.3 548.5,1133.5 526.7,1136.4" fill="#000"/><line x1="641.3" y1="1136.8" x2="589.0" y2="1090.7" stroke="#000" stroke-width="3.2"/><polygon points="563.8,1068.5 602.6,1088.0 588.0,1104.5" fill="#000"/><line x1="1482.0" y1="1474.0" x2="1524.8" y2="1491.7" stroke="#000" stroke-width="3.2"/><polygon points="1555.8,1504.6 1512.8,1498.7 1521.2,1478.4" fill="#000"/><line x1="1665.7" y1="1511.6" x2="1644.8" y2="1473.2" stroke="#000" stroke-width="3.2"/><polygon points="1628.7,1443.7 1658.5,1475.3 1639.1,1485.8" fill="#000"/><line x1="1738.6" y1="1394.8" x2="1704.5" y2="1330.6" stroke="#000" stroke-width="3.2"/><polygon points="1688.7,1300.9 1718.1,1332.8 1698.7,1343.2" fill="#000"/><line x1="1871.9" y1="1352.8" x2="1795.5" y2="1314.1" stroke="#000" stroke-width="3.2"/><polygon points="1765.5,1298.9 1807.9,1308.1 1798.0,1327.7" fill="#000"/><line x1="2054.6" y1="1395.8" x2="2000.8" y2="1352.0" stroke="#000" stroke-width="3.2"/><polygon points="1974.7,1330.8 2014.2,1348.8 2000.3,1365.8" fill="#000"/><text transform="translate(863.0,395.4) scale(1,1.07)" text-anchor="middle" class="pk">2864</text><text transform="translate(1340.8,575.0) scale(1,1.07)" text-anchor="middle" class="pk">1690</text><text transform="translate(560.0,1253.9) scale(1,1.07)" text-anchor="middle" class="pk">3468</text><text transform="translate(697.4,1188.7) scale(1,1.07)" text-anchor="middle" class="pk">3417</text><text transform="translate(575.4,1439.9) scale(1,1.07)" text-anchor="middle" class="pk">3400</text><text transform="translate(1402.3,1500.2) scale(1,1.07)" text-anchor="middle" class="pk">1558</text><text transform="translate(1664.9,1572.7) scale(1,1.07)" text-anchor="middle" class="pk">1476</text><text transform="translate(1745.2,1455.4) scale(1,1.07)" text-anchor="middle" class="pk">1350</text><text transform="translate(1893.2,1408.7) scale(1,1.07)" text-anchor="middle" class="pk">1193</text><text transform="translate(2062.0,1446.7) scale(1,1.07)" text-anchor="middle" class="pk">811</text><text x="257" y="177.8" class="sr" fill="#000">Terephthalaldehyde</text><text x="253.5" y="664.6" class="sr" fill="#0000ff">Melamine</text><text x="257" y="1212.5" class="sr" fill="#ff0000">COPs</text><text transform="translate(120.5,1322) rotate(-90)" class="ax">Transmittance (A.U.)</text><text transform="translate(676,1902.5) scale(1,1.028)" class="ax">Wavenumbers (cm<tspan class="sup" dx="-2" dy="-43.5">-1</tspan><tspan dy="43.5">)</tspan></text></g></svg>
</body></html>
